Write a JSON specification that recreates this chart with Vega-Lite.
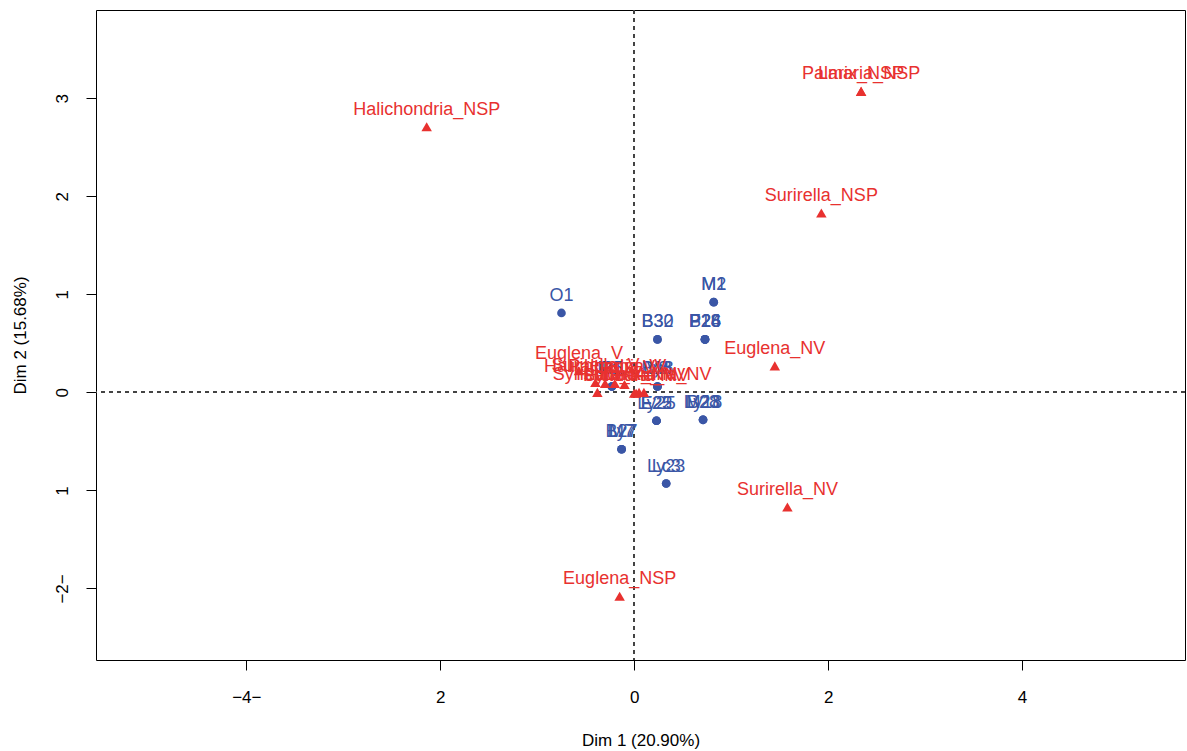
{
  "$schema": "https://vega.github.io/schema/vega-lite/v6.json",
  "autosize": "none",
  "width": 1089,
  "height": 650,
  "padding": {"left": 96, "top": 10, "right": 2, "bottom": 91},
  "background": "white",
  "config": {
    "view": {"stroke": "#000000", "strokeWidth": 1},
    "axis": {"grid": false, "domain": false, "tickColor": "#000000", "tickSize": 10, "tickWidth": 1, "labelColor": "#000000", "labelFont": "Liberation Sans", "labelFontSize": 17, "titleFont": "Liberation Sans", "titleFontSize": 17, "titleFontWeight": "normal", "titleColor": "#000000"}
  },
  "data": {
    "values": [
      {"name": "O1", "x": -0.75, "y": 0.81, "type": "ind"},
      {"name": "M1", "x": 0.82, "y": 0.92, "type": "ind"},
      {"name": "M2", "x": 0.82, "y": 0.92, "type": "ind"},
      {"name": "B30", "x": 0.24, "y": 0.54, "type": "ind"},
      {"name": "B32", "x": 0.24, "y": 0.54, "type": "ind"},
      {"name": "F18", "x": 0.73, "y": 0.54, "type": "ind"},
      {"name": "P24", "x": 0.73, "y": 0.54, "type": "ind"},
      {"name": "P26", "x": 0.73, "y": 0.54, "type": "ind"},
      {"name": "B26", "x": 0.73, "y": 0.54, "type": "ind"},
      {"name": "Lc1", "x": -0.23, "y": 0.06, "type": "ind"},
      {"name": "B1", "x": -0.23, "y": 0.06, "type": "ind"},
      {"name": "B5", "x": -0.23, "y": 0.06, "type": "ind"},
      {"name": "Ly8", "x": 0.24, "y": 0.06, "type": "ind"},
      {"name": "B18", "x": 0.24, "y": 0.06, "type": "ind"},
      {"name": "V8", "x": 0.24, "y": 0.06, "type": "ind"},
      {"name": "E22", "x": 0.23, "y": -0.29, "type": "ind"},
      {"name": "Ly25", "x": 0.23, "y": -0.29, "type": "ind"},
      {"name": "F25", "x": 0.23, "y": -0.29, "type": "ind"},
      {"name": "M23", "x": 0.71, "y": -0.28, "type": "ind"},
      {"name": "Ly18", "x": 0.71, "y": -0.28, "type": "ind"},
      {"name": "B28", "x": 0.71, "y": -0.28, "type": "ind"},
      {"name": "B27", "x": -0.13, "y": -0.58, "type": "ind"},
      {"name": "Ly7", "x": -0.13, "y": -0.58, "type": "ind"},
      {"name": "M7", "x": -0.13, "y": -0.58, "type": "ind"},
      {"name": "Ly23", "x": 0.33, "y": -0.93, "type": "ind"},
      {"name": "Lc3", "x": 0.33, "y": -0.93, "type": "ind"},
      {"name": "Halichondria_NSP", "x": -2.14, "y": 2.71, "type": "var"},
      {"name": "Palmaria_NSP", "x": 2.34, "y": 3.07, "type": "var"},
      {"name": "Larix_NSP", "x": 2.34, "y": 3.07, "type": "var"},
      {"name": "Surirella_NSP", "x": 1.93, "y": 1.83, "type": "var"},
      {"name": "Euglena_NV", "x": 1.45, "y": 0.27, "type": "var"},
      {"name": "Surirella_NV", "x": 1.58, "y": -1.17, "type": "var"},
      {"name": "Euglena_NSP", "x": -0.15, "y": -2.08, "type": "var"},
      {"name": "Euglena_V", "x": -0.57, "y": 0.22, "type": "var"},
      {"name": "Surirella_V", "x": -0.4, "y": 0.1, "type": "var"},
      {"name": "Synedra_V", "x": -0.38, "y": 0.0, "type": "var"},
      {"name": "Halichondria_V", "x": -0.3, "y": 0.09, "type": "var"},
      {"name": "Palmaria_V", "x": -0.2, "y": 0.09, "type": "var"},
      {"name": "Larix_V", "x": -0.1, "y": 0.08, "type": "var"},
      {"name": "Synedra_NV", "x": 0.0, "y": -0.01, "type": "var"},
      {"name": "Palmaria_NV", "x": 0.02, "y": -0.01, "type": "var"},
      {"name": "Larix_NV", "x": 0.05, "y": 0.0, "type": "var"},
      {"name": "Halichondria_NV", "x": 0.1, "y": 0.0, "type": "var"}
    ]
  },
  "encoding": {
    "x": {"field": "x", "type": "quantitative", "scale": {"domain": [-5.55, 5.68], "nice": false, "zero": false},
      "axis": {"values": [-4, -2, 0, 2, 4], "title": "Dim 1 (20.90%)", "labelBaseline": "middle", "labelPadding": 27, "titleY": 80, "titleBaseline": "middle",
        "labelExpr": "datum.value == -4 ? '−4−' : datum.value == -2 ? '2' : datum.label"}},
    "y": {"field": "y", "type": "quantitative", "scale": {"domain": [-2.73, 3.9], "nice": false, "zero": false},
      "axis": {"values": [-2, -1, 0, 1, 2, 3], "title": "Dim 2 (15.68%)", "labelAngle": -90, "labelAlign": "center", "labelBaseline": "middle", "labelPadding": 24, "titleX": -76, "titleAngle": -90, "titleBaseline": "middle", "titleAlign": "center",
        "labelExpr": "datum.value == -2 ? '−2−' : datum.value == -1 ? '1' : datum.label"}}
  },
  "layer": [
    {"mark": {"type": "rule", "color": "#444444", "strokeDash": [4, 4], "strokeWidth": 1.2}, "encoding": {"x": {"datum": 0}, "y": null}},
    {"mark": {"type": "rule", "color": "#444444", "strokeDash": [4, 4], "strokeWidth": 1.2}, "encoding": {"y": {"datum": 0}, "x": null}},
    {"transform": [{"filter": "datum.type == 'ind'"}], "mark": {"type": "point", "shape": "circle", "filled": true, "size": 75, "color": "#3A56A6", "opacity": 1}},
    {"transform": [{"filter": "datum.type == 'ind'"}], "mark": {"type": "text", "color": "#3A56A6", "font": "Liberation Sans", "fontSize": 18, "dy": -17, "baseline": "middle", "align": "center"}, "encoding": {"text": {"field": "name"}}},
    {"transform": [{"filter": "datum.type == 'var'"}], "mark": {"type": "point", "shape": "triangle-up", "filled": true, "size": 110, "color": "#E8312F", "opacity": 1}},
    {"transform": [{"filter": "datum.type == 'var'"}], "mark": {"type": "text", "color": "#E8312F", "font": "Liberation Sans", "fontSize": 18, "dy": -17, "baseline": "middle", "align": "center"}, "encoding": {"text": {"field": "name"}}}
  ]
}
